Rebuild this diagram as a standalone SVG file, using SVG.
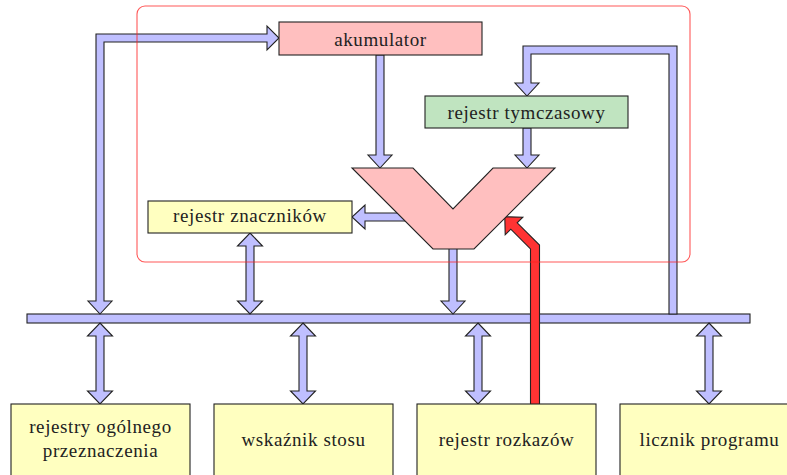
<svg xmlns="http://www.w3.org/2000/svg" width="787" height="475" viewBox="0 0 787 475">
<style>
.node{stroke:#222;stroke-width:1.1}
.arr{fill:#bfbfff;stroke:#222;stroke-width:1.1;stroke-linejoin:miter}
.red{fill:#ff3333;stroke:#222;stroke-width:1.1}
</style>
<rect width="787" height="475" fill="#fff"/>
<g id="bus"><rect x="27" y="314" width="723" height="9" class="arr"/></g>
<g id="connectors">
<polygon class="arr" points="100,314 112,301 104,301 104,42 267,42 267,50 279,38 267,26 267,34 96,34 96,301 88,301"/>
<polygon class="arr" points="669,314 669,54 531,54 531,83 539,83 527,96 515,83 523,83 523,46 677,46 677,314"/>
<polygon class="arr" points="376,55 384,55 384,155 392,155 380,168 368,155 376,155"/>
<polygon class="arr" points="523,128 531,128 531,155 539,155 527,168 515,155 523,155"/>
<polygon class="arr" points="420,213 365,213 365,205 352,217 365,229 365,221 420,221"/>
<polygon class="arr" points="449,240 457,240 457,301 465,301 453,314 441,301 449,301"/>
<polygon class="arr" points="250,233 262.5,246 254,246 254,301 262.5,301 250,314 237.5,301 246,301 246,246 237.5,246"/>
<polygon class="arr" points="100,323 112.5,336 104,336 104,391 112.5,391 100,404 87.5,391 96,391 96,336 87.5,336"/>
<polygon class="arr" points="303,323 315.5,336 307,336 307,391 315.5,391 303,404 290.5,391 299,391 299,336 290.5,336"/>
<polygon class="arr" points="478,323 490.5,336 482,336 482,391 490.5,391 478,404 465.5,391 474,391 474,336 465.5,336"/>
<polygon class="arr" points="709,323 721.5,336 713,336 713,391 721.5,391 709,404 696.5,391 705,391 705,336 696.5,336"/>
<polygon class="red" points="530.5,410 530.5,248.9 510.8,229.2 505.2,234.8 504.8,216.8 522.8,217.2 517.2,222.8 539.5,245.1 539.5,410"/>
</g>
<g id="akumulator"><rect class="node" x="279" y="22" width="203" height="33" fill="#ffbfbf"/><text x="380.5" y="46" font-family="Liberation Serif" font-size="19" letter-spacing="0.6" fill="#222" text-anchor="middle">akumulator</text></g>
<g id="rejestr-tymczasowy"><rect class="node" x="425" y="96" width="203" height="32" fill="#c0e4c0"/><text x="526.5" y="119" font-family="Liberation Serif" font-size="19" letter-spacing="0.6" fill="#222" text-anchor="middle">rejestr tymczasowy</text></g>
<g id="alu"><polygon class="node" fill="#ffbfbf" points="352,168 413,168 453,209 493,168 555,168 474,249 433,249"/></g>
<g id="rejestr-znacznikow"><rect class="node" x="148" y="201" width="204" height="32" fill="#ffffc0"/><text x="250" y="222" font-family="Liberation Serif" font-size="19" letter-spacing="0.6" fill="#222" text-anchor="middle">rejestr znaczników</text></g>
<g id="rejestry-ogolne"><rect class="node" x="11" y="404" width="179" height="80" fill="#ffffc0"/><text x="100.5" y="433" font-family="Liberation Serif" font-size="19" letter-spacing="0.6" fill="#222" text-anchor="middle">rejestry ogólnego</text><text x="100.5" y="457" font-family="Liberation Serif" font-size="19" letter-spacing="0.6" fill="#222" text-anchor="middle">przeznaczenia</text></g>
<g id="wskaznik-stosu"><rect class="node" x="214" y="404" width="179" height="80" fill="#ffffc0"/><text x="303.5" y="446" font-family="Liberation Serif" font-size="19" letter-spacing="0.6" fill="#222" text-anchor="middle">wskaźnik stosu</text></g>
<g id="rejestr-rozkazow"><rect class="node" x="417" y="404" width="179" height="80" fill="#ffffc0"/><text x="506.5" y="446" font-family="Liberation Serif" font-size="19" letter-spacing="0.6" fill="#222" text-anchor="middle">rejestr rozkazów</text></g>
<g id="licznik-programu"><rect class="node" x="620" y="404" width="179" height="80" fill="#ffffc0"/><text x="709.5" y="446" font-family="Liberation Serif" font-size="19" letter-spacing="0.6" fill="#222" text-anchor="middle">licznik programu</text></g>
<g id="frame"><rect x="137" y="6" width="553" height="256" rx="8" fill="none" stroke="#ff2020" stroke-opacity="0.75" stroke-width="1.1"/></g>
</svg>
